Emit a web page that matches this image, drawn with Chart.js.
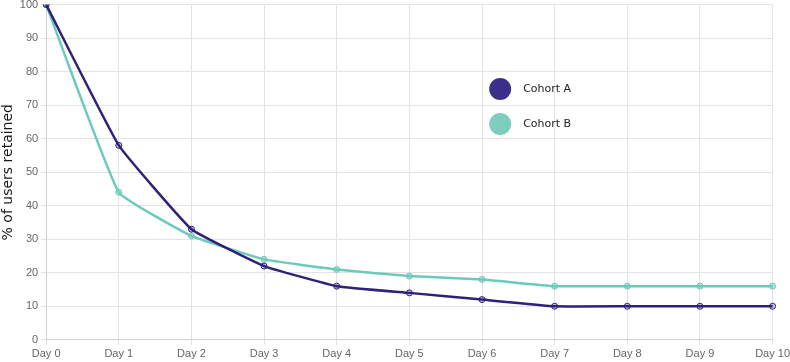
<!DOCTYPE html>
<html>
<head>
<meta charset="utf-8">
<script src="https://cdn.jsdelivr.net/npm/chart.js@4/dist/chart.umd.min.js"></script>
<style>
  html, body { margin: 0; padding: 0; background: #fff; }
  #wrap { position: relative; width: 790px; height: 362px; overflow: hidden; }
  #box { position: absolute; left: 0; top: -5px; width: 793px; height: 369px; }
</style>
</head>
<body>
<div id="wrap"><div id="box"><canvas id="retention"></canvas></div></div>
<script>
var days = ["Day 0", "Day 1", "Day 2", "Day 3", "Day 4", "Day 5", "Day 6", "Day 7", "Day 8", "Day 9", "Day 10"];
var cohortA = [100, 58, 33, 22, 16, 14, 12, 10, 10, 10, 10];
var cohortB = [100, 44, 31, 24, 21, 19, 18, 16, 16, 16, 16];
var seriesNames = ["Cohort A", "Cohort B"];
var colorA = "#2f2179";
var colorB = "#6ccabb";

// legend drawn inside the plot, right of middle
var dotLegend = {
    id: "dotLegend",
    afterDraw: function (chart) {
        var ctx = chart.ctx;
        var area = chart.chartArea;
        var x = area.left + (area.right - area.left) * 0.625;
        var y = area.top + (area.bottom - area.top) * 0.252;
        chart.data.datasets.forEach(function (ds, i) {
            var cy = y + i * 35;
            ctx.save();
            ctx.beginPath();
            ctx.arc(x, cy, 11, 0, Math.PI * 2);
            ctx.fillStyle = ds.legendColor;
            ctx.fill();
            ctx.fillStyle = "#222";
            ctx.font = "11px 'DejaVu Sans'";
            ctx.textAlign = "left";
            ctx.textBaseline = "middle";
            ctx.fillText(ds.label, x + 23, cy);
            ctx.restore();
        });
    }
};

var ctx = document.getElementById("retention").getContext("2d");
new Chart(ctx, {
    type: "line",
    data: {
        labels: days,
        datasets: [{
            label: seriesNames[0],
            data: cohortA,
            borderColor: colorA,
            borderWidth: 2.5,
            pointRadius: 3,
            pointBorderWidth: 1,
            pointBackgroundColor: "rgba(47,33,121,0.25)",
            pointBorderColor: colorA,
            legendColor: "#3b3089",
            tension: 0.1
        },
        {
            label: seriesNames[1],
            data: cohortB,
            borderColor: colorB,
            borderWidth: 2.5,
            pointRadius: 3,
            pointBorderWidth: 1,
            pointBackgroundColor: "rgba(108,202,187,0.5)",
            pointBorderColor: colorB,
            legendColor: "#7ecdbe",
            tension: 0.1
        }]
    },
    options: {
        responsive: true,
        maintainAspectRatio: false,
        animation: false,
        layout: { padding: { left: 0, right: 0, top: 0, bottom: 0 } },
        plugins: {
            legend: { display: false },
            tooltip: { enabled: false }
        },
        scales: {
            x: {
                offset: false,
                grid: { color: "#e3e3e3", tickLength: 5 },
                border: { color: "#d0d0d0" },
                ticks: { color: "#666", font: { family: "'Liberation Sans'", size: 11 }, maxRotation: 0, padding: 3 },
            },
            y: {
                min: 0,
                max: 100,
                grid: { color: "#e3e3e3", tickLength: 5 },
                border: { color: "#d0d0d0" },
                ticks: { stepSize: 10, color: "#666", font: { family: "'Liberation Sans'", size: 11 }, padding: 3 },
                title: {
                    display: true,
                    text: "% of users retained",
                    color: "#1a1a1a",
                    font: { family: "'DejaVu Sans'", size: 14 },
                    padding: { top: 0, bottom: 0 }
                }
            }
        }
    },
    plugins: [dotLegend]
});
</script>
</body>
</html>
